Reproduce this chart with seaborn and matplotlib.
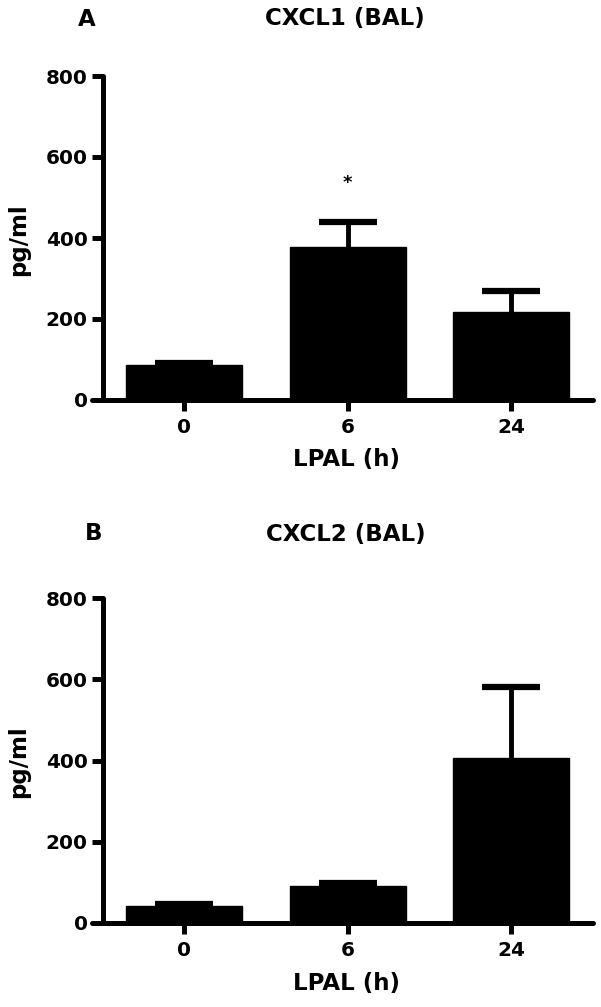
'''
Bar charts of CXCL1 and CXCL2 in BAL fluid after LPAL,
drawn as two stacked panels (A and B) with SEM error bars.
'''
import pandas as pd
import seaborn as sns
import matplotlib.pyplot as plt

# Time points (h)
times = ['0', '6', '24']

# Panel A - CXCL1 (BAL)
cxcl1_mean = [86, 379, 217]
cxcl1_sem = [6, 60, 52]

# Panel B - CXCL2 (BAL)
cxcl2_mean = [43, 92, 405]
cxcl2_sem = [4, 7, 176]

y_ticks = [0, 200, 400, 600, 800]

FIG_W, FIG_H = 601, 1007


def plot_panel(ax, means, sems, star=None):
    '''
    Draws one GraphPad-like bar panel onto ax, with black bars,
    upward-only error bars and thick axis lines.
    '''
    data = pd.DataFrame({'time': times, 'value': means})
    sns.barplot(x='time', y='value', data=data, color='black',
                width=0.71, saturation=1, edgecolor='black',
                linewidth=1, ax=ax)

    # Only the upper half of the error bar is shown
    eb = ax.errorbar(range(len(times)), means,
                     yerr=[[0] * len(sems), sems],
                     fmt='none', ecolor='black', elinewidth=3.5,
                     capsize=21, capthick=4.5, zorder=1)
    eb[1][0].set_visible(False)

    if star is not None:
        idx, y = star
        ax.text(idx, y, '*', ha='center', va='center',
                fontsize=13, fontweight='bold')

    ax.set_xlim(-0.563, 2.5)
    ax.set_ylim(0, 800)
    ax.set_yticks(y_ticks)
    ax.set_xticks(range(len(times)))
    ax.set_xticklabels(times)

    # Axis lines
    sns.despine(ax=ax)
    ax.spines['left'].set_position(('data', -0.495))
    for side in ['left', 'bottom']:
        ax.spines[side].set_linewidth(3.6)
        ax.spines[side].set_color('black')
        ax.spines[side].set_capstyle('round')
    ax.tick_params(axis='both', width=3.6, length=8, labelsize=14.4,
                   direction='out', color='black', labelcolor='black')
    ax.tick_params(axis='y', pad=3)
    ax.tick_params(axis='x', pad=5)
    for lab in ax.get_xticklabels() + ax.get_yticklabels():
        lab.set_fontweight('bold')

    ax.set_xlabel('LPAL (h)', fontsize=16.5, fontweight='bold',
                  color='black')
    ax.set_ylabel('pg/ml', fontsize=16.5, fontweight='bold',
                  color='black')
    ax.xaxis.set_label_coords(0.507, -0.185)
    ax.xaxis.label.set_va('center')
    ax.yaxis.set_label_coords(-0.146, 0.495)
    ax.yaxis.label.set_va('center')


def main():
    sns.set_style('ticks')
    plt.rcParams['font.family'] = ['DejaVu Sans']
    plt.rcParams['text.color'] = 'black'

    fig = plt.figure(figsize=(FIG_W / 100, FIG_H / 100), dpi=100)

    # Axes boxes measured in pixels: left 92, right 593
    left = 92 / FIG_W
    width = 501 / FIG_W
    ax_a = fig.add_axes([left, 1 - 400 / FIG_H, width, 324 / FIG_H])
    ax_b = fig.add_axes([left, 1 - 923 / FIG_H, width, 325 / FIG_H])

    plot_panel(ax_a, cxcl1_mean, cxcl1_sem, star=(1, 536))
    plot_panel(ax_b, cxcl2_mean, cxcl2_sem)

    # Panel letters and titles
    fig.text(87 / FIG_W, 1 - 19 / FIG_H, 'A', ha='center', va='center',
             fontsize=16.5, fontweight='bold')
    fig.text(345 / FIG_W, 1 - 19 / FIG_H, 'CXCL1 (BAL)', ha='center',
             va='center', fontsize=16.5, fontweight='bold')
    fig.text(94 / FIG_W, 1 - 533 / FIG_H, 'B', ha='center', va='center',
             fontsize=16.5, fontweight='bold')
    fig.text(346 / FIG_W, 1 - 534 / FIG_H, 'CXCL2 (BAL)', ha='center',
             va='center', fontsize=16.5, fontweight='bold')

    fig.savefig('out.png', dpi=100)


if __name__ == '__main__':
    main()
